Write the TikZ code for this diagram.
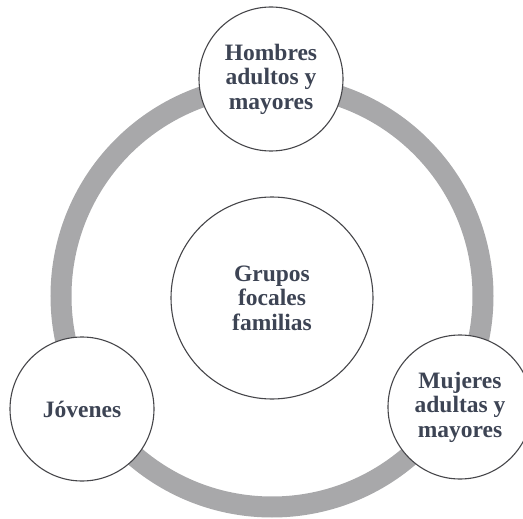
\documentclass[tikz,border=0pt]{standalone}
\usepackage{fontspec}
\setmainfont{Liberation Serif}

\definecolor{anillo}{RGB}{168,168,170}
\definecolor{borde}{RGB}{70,70,74}
\definecolor{texto}{RGB}{61,68,84}

\begin{document}
\begin{tikzpicture}[x=1pt, y=-1pt,
  grupo/.style={circle, draw=borde, line width=1.1pt, fill=white,
    minimum size=144pt, inner sep=0pt, align=center, text=texto,
    font=\bfseries\fontsize{23.5}{24.5}\selectfont},
  ring/.style={draw=anillo, line width=21pt}]
  % marco de la imagen
  \useasboundingbox (0,0) rectangle (523,519);
  \coordinate (centro) at (272,296);
  % anillo gris
  \draw[ring] (centro) circle[radius=211pt];
  % circulos
  \node[grupo, minimum size=202pt] (grupos) at (272,298) {Grupos\\focales\\familias};
  \node[grupo] (hombres) at (271,79) {Hombres\\adultos y\\mayores};
  \node[grupo] (jovenes) at (82,409) {Jóvenes};
  \node[grupo] (mujeres) at (460,407) {Mujeres\\adultas y\\mayores};
\end{tikzpicture}
\end{document}
